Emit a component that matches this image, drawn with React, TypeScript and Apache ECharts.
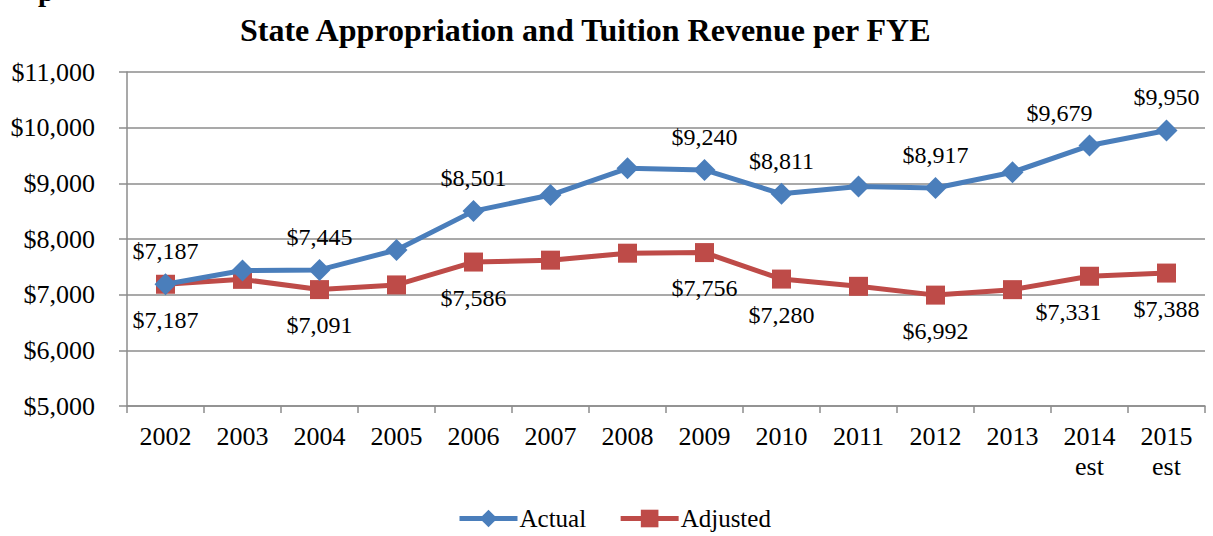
import React, { useEffect, useRef } from "react";
import * as echarts from "echarts";

const categories = ["2002", "2003", "2004", "2005", "2006", "2007", "2008", "2009", "2010", "2011", "2012", "2013", "2014\nest", "2015\nest"];
const actual = [7187, 7433, 7445, 7803, 8501, 8790, 9270, 9240, 8811, 8945, 8917, 9200, 9679, 9950];
const adjusted = [7187, 7275, 7091, 7175, 7586, 7620, 7745, 7756, 7280, 7150, 6992, 7090, 7331, 7388];
const labeledIdx = [0, 2, 4, 7, 8, 10, 12, 13];
const yTicks = { min: 5000, max: 11000, interval: 1000 };

const FONT = "'Liberation Serif'";
const fmt = (v: number) => "$" + v.toLocaleString("en-US");

export default function App() {
  const ref = useRef<HTMLDivElement>(null);
  useEffect(() => {
    const chart = echarts.init(ref.current!, null, { renderer: "svg" });
    const mk = (arr: number[], shift14: number) =>
      arr.map((v, i) => ({
        value: v,
        label: { show: labeledIdx.includes(i), offset: i === 12 ? [shift14, 0] : [0, 0] },
      }));
    chart.setOption({
      animation: false,
      textStyle: { fontFamily: FONT },
      title: {
        text: "State Appropriation and Tuition Revenue per FYE",
        left: 235,
        top: 9,
        textStyle: { fontFamily: FONT, fontSize: 32, fontWeight: "bold", color: "#000" },
      },
      graphic: [
        {
          type: "text",
          left: 38,
          top: -24,
          style: { text: "p", font: "bold 29px 'Liberation Serif'", fill: "#000" },
        },
      ],
      legend: {
        left: 452,
        top: 501,
        itemWidth: 58,
        itemHeight: 22,
        itemGap: 32,
        lineStyle: { width: 5 },
        textStyle: { fontFamily: FONT, fontSize: 25, color: "#000", padding: [0, 0, 0, -3] },
        data: ["Actual", "Adjusted"],
      },
      grid: { left: 127, right: 8, top: 72, bottom: 130, containLabel: false },
      xAxis: {
        type: "category",
        data: categories,
        boundaryGap: true,
        axisLine: { lineStyle: { color: "#8c8c8c", width: 1.5 } },
        axisTick: { show: true, length: 7, interval: 0, lineStyle: { color: "#8c8c8c", width: 1.5 } },
        axisLabel: {
          interval: 0,
          margin: 15,
          fontFamily: FONT,
          fontSize: 26,
          color: "#000",
          lineHeight: 30,
        },
      },
      yAxis: {
        type: "value",
        min: yTicks.min,
        max: yTicks.max,
        interval: yTicks.interval,
        axisLine: { show: true, lineStyle: { color: "#8c8c8c", width: 1.5 } },
        axisTick: { show: true, length: 8, inside: false, lineStyle: { color: "#8c8c8c", width: 1.5 } },
        splitLine: { show: true, lineStyle: { color: "#8c8c8c", width: 1.5 } },
        axisLabel: {
          margin: 32,
          fontFamily: FONT,
          fontSize: 26,
          color: "#000",
          formatter: (v: number) => fmt(v),
        },
      },
      series: [
        {
          name: "Actual",
          type: "line",
          data: mk(actual, -30),
          symbol: "diamond",
          symbolSize: 22,
          lineStyle: { color: "#4A7EBB", width: 5 },
          itemStyle: { color: "#4A7EBB" },
          label: {
            position: "top",
            distance: 10,
            fontFamily: FONT,
            fontSize: 24,
            color: "#000",
            formatter: (p: any) => fmt(p.value),
          },
          z: 3,
        },
        {
          name: "Adjusted",
          type: "line",
          data: mk(adjusted, -21),
          symbol: "rect",
          symbolSize: 19,
          lineStyle: { color: "#BE4B48", width: 5 },
          itemStyle: { color: "#BE4B48" },
          label: {
            position: "bottom",
            distance: 14,
            fontFamily: FONT,
            fontSize: 24,
            color: "#000",
            formatter: (p: any) => fmt(p.value),
          },
          z: 2,
        },
      ],
    });
    return () => chart.dispose();
  }, []);
  return (
    <div
      ref={ref}
      style={{ position: "fixed", left: 0, top: 0, width: 1213, height: 536, background: "#fff" }}
    />
  );
}
